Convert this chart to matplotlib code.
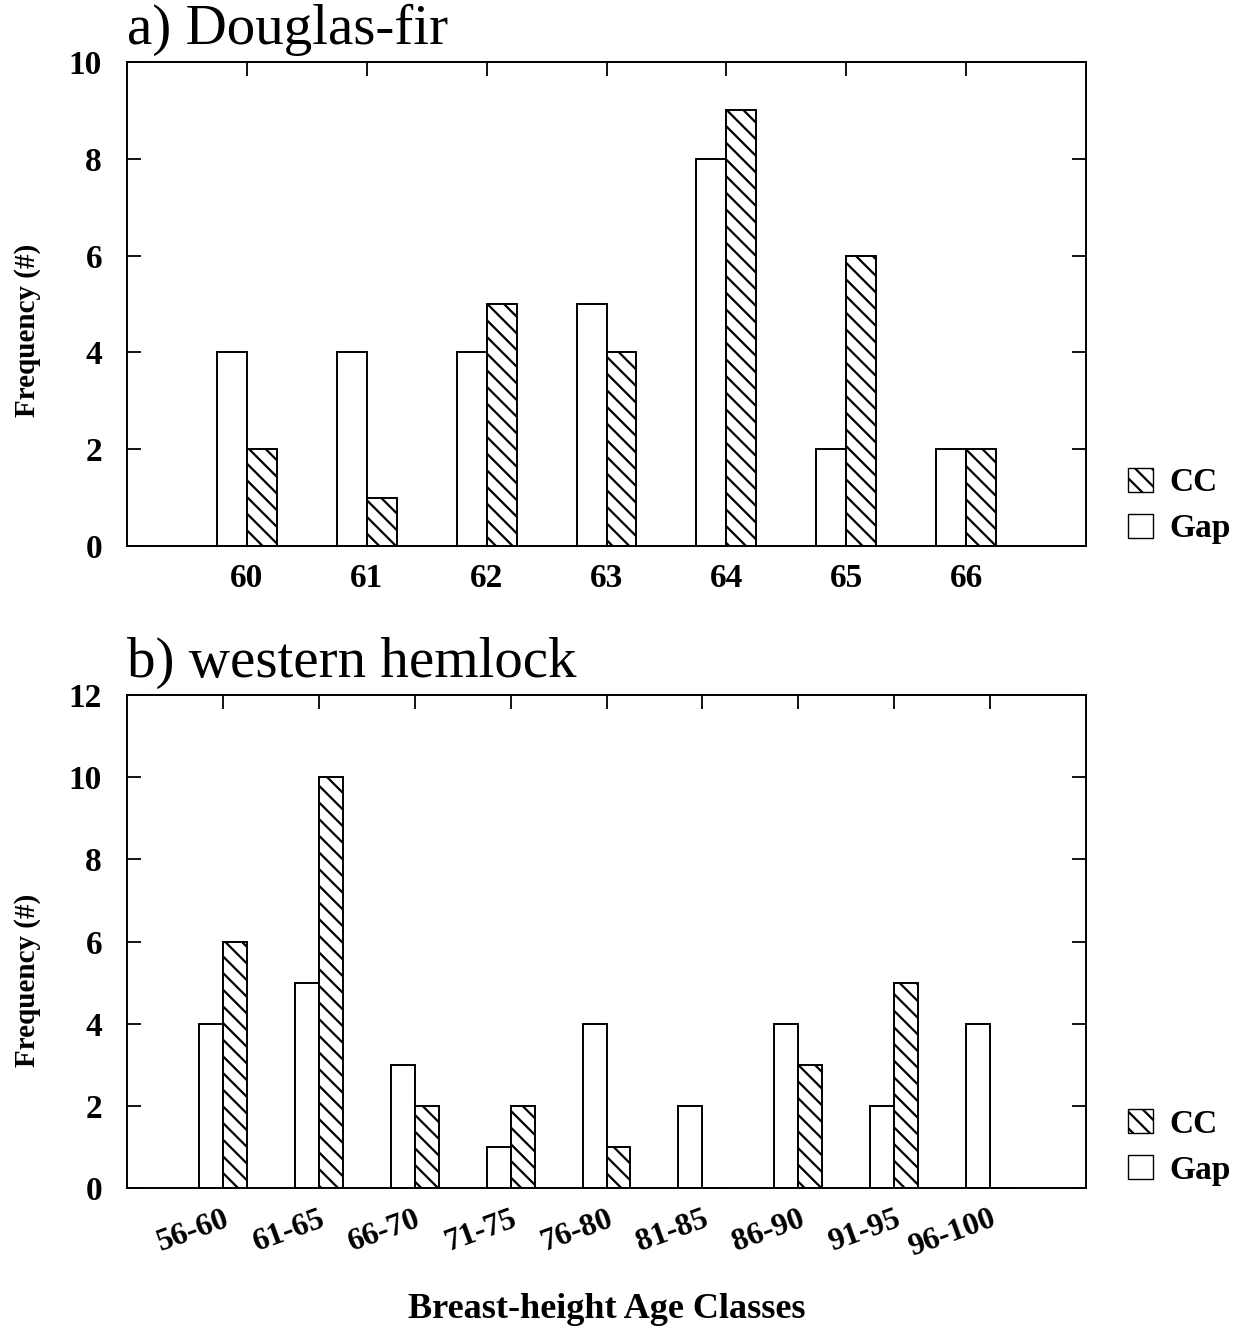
import matplotlib.pyplot as plt
from matplotlib.patches import Patch

# Douglas-fir, breast-height age
df_classes = ["60", "61", "62", "63", "64", "65", "66"]
df_gap = [4, 4, 4, 5, 8, 2, 2]
df_cc = [2, 1, 5, 4, 9, 6, 2]

# western hemlock, breast-height age classes
wh_classes = ["56-60", "61-65", "66-70", "71-75", "76-80", "81-85", "86-90", "91-95", "96-100"]
wh_gap = [4, 5, 3, 1, 4, 2, 4, 2, 4]
wh_cc = [6, 10, 2, 2, 1, 0, 3, 5, 0]

plt.rcParams['font.family'] = ['Liberation Serif', 'DejaVu Serif']
plt.rcParams['hatch.linewidth'] = 1.6
plt.rcParams['axes.linewidth'] = 1.4

fig = plt.figure(figsize=(12.44, 13.34), dpi=100)
ax1 = fig.add_axes([0.1021, 0.5907, 0.7709, 0.3628])
ax2 = fig.add_axes([0.1021, 0.1094, 0.7709, 0.3696])

w = 0.25


def draw(ax, classes, gap, cc, ymax, title):
    x = list(range(1, len(classes) + 1))
    ax.bar([i - w / 2 for i in x], gap, width=w, color='white',
           edgecolor='black', linewidth=1.4)
    ax.bar([i + w / 2 for i in x], cc, width=w, color='white',
           edgecolor='black', linewidth=1.4, hatch='\\\\')
    ax.set_xlim(0, len(classes) + 1)
    ax.set_ylim(0, ymax)
    ax.set_yticks(range(0, ymax + 1, 2))
    ax.set_xticks(x)
    ax.tick_params(axis='y', direction='in', left=True, right=True,
                   length=10, width=1.3, pad=18, labelsize=24)
    ax.tick_params(axis='x', direction='in', bottom=False, top=True,
                   length=10, width=1.3)
    for lab in ax.get_yticklabels():
        lab.set_fontweight('bold')
    ax.text(0.0, 1.012, title, transform=ax.transAxes, fontsize=41,
            ha='left', va='bottom')
    handles = [Patch(facecolor='white', edgecolor='black', hatch='\\\\', label='CC'),
               Patch(facecolor='white', edgecolor='black', label='Gap')]
    ax.legend(handles=handles, loc='center left', bbox_to_anchor=(1.012, 0.083),
              frameon=False, handlelength=0.75, handleheight=0.75,
              handletextpad=0.5, labelspacing=0.45,
              prop={'size': 24, 'weight': 'bold'})


draw(ax1, df_classes, df_gap, df_cc, 10, "a) Douglas-fir")
ax1.set_xticks(range(1, len(df_classes) + 1), df_classes, fontsize=24,
               fontweight='bold')
ax1.tick_params(axis='x', pad=12)

draw(ax2, wh_classes, wh_gap, wh_cc, 12, "b) western hemlock")
ax2.set_xticks(range(1, len(wh_classes) + 1), wh_classes, fontsize=23,
               fontweight='bold', rotation=20, ha='right', rotation_mode='anchor')
ax2.tick_params(axis='x', pad=12)

fig.text(0.022, 1 - 330 / 1334, "Frequency (#)", rotation=90, fontsize=21,
         fontweight='bold', ha='center', va='center')
fig.text(0.022, 1 - 980 / 1334, "Frequency (#)", rotation=90, fontsize=21,
         fontweight='bold', ha='center', va='center')
fig.text(0.488, 1 - 1310 / 1334, "Breast-height Age Classes", fontsize=26,
         fontweight='bold', ha='center', va='center')

fig.savefig("out.png", dpi=100)
